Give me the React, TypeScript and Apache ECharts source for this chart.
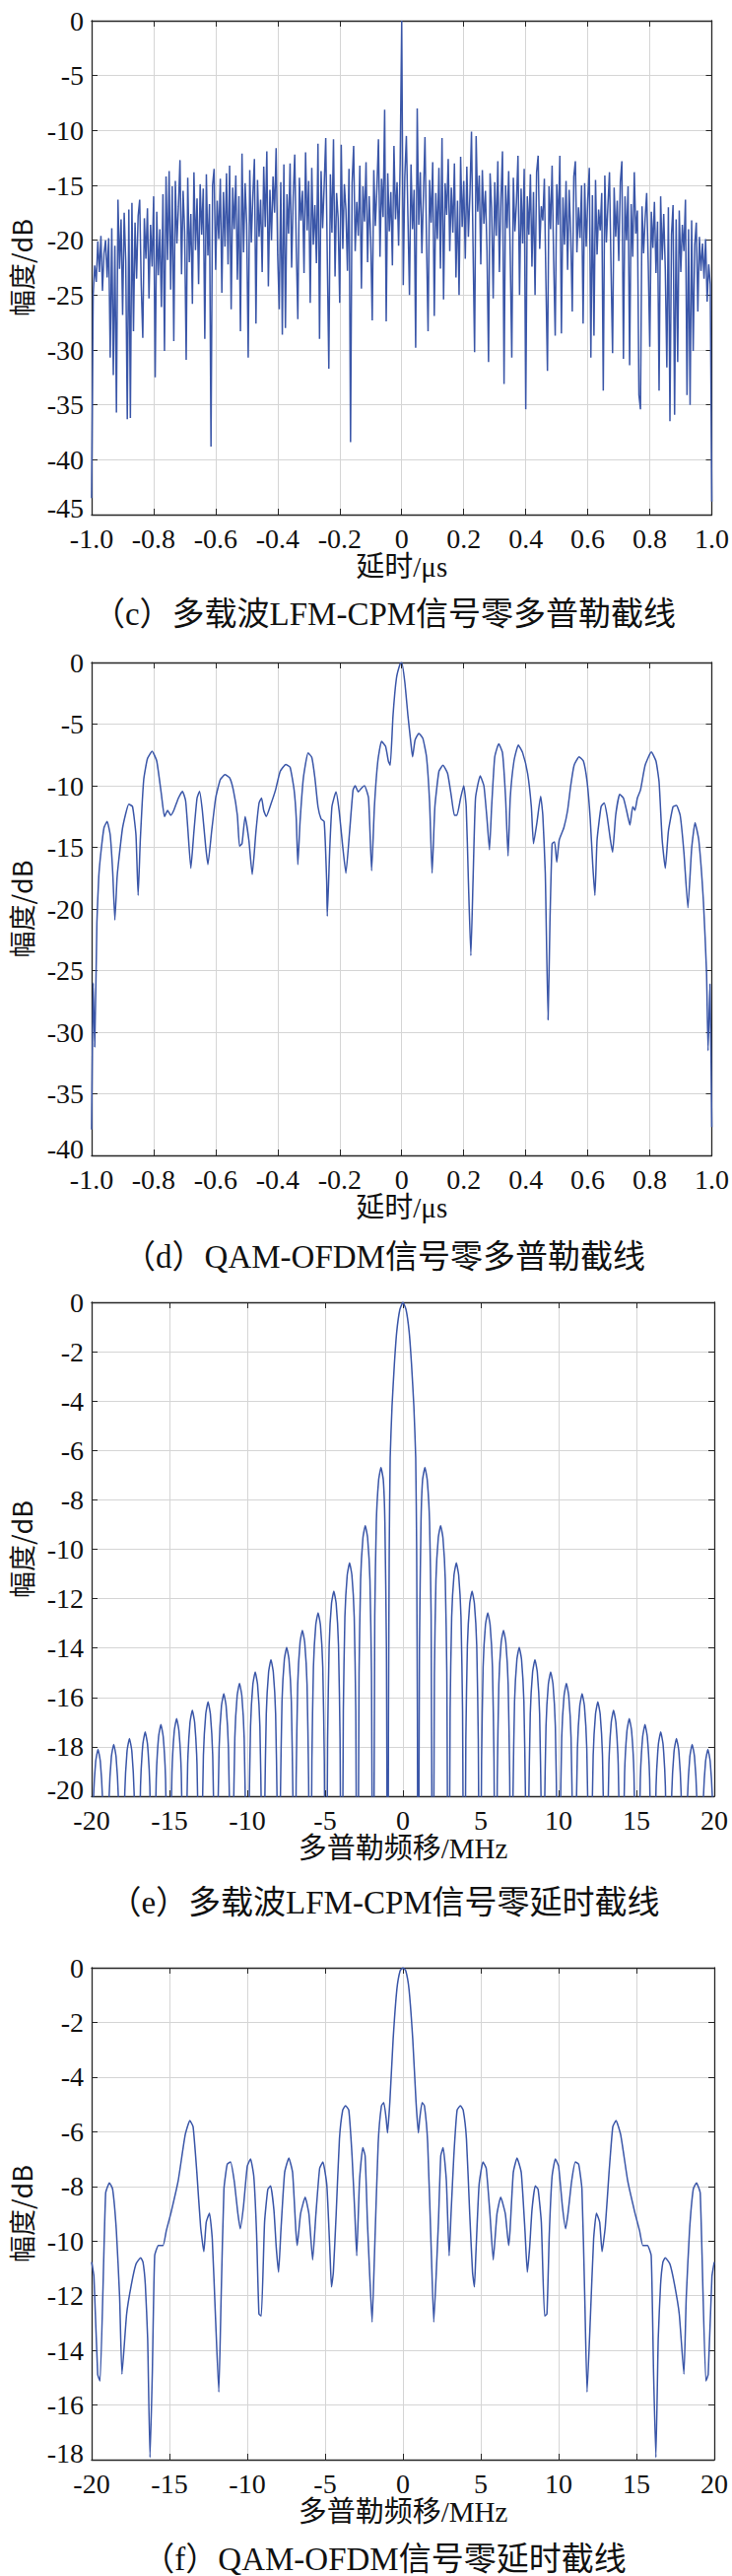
import React, { useEffect, useRef } from "react";
import * as echarts from "echarts";

// ---------- (c) multicarrier LFM-CPM, zero-Doppler cut: uniformly sampled delay ----------
const C_DELAY_START = -1;
const C_DELAY_STEP = 0.005;
const C_AMP = [
  -43.5, -25.0, -22.3, -23.8, -20.1, -22.9, -19.6, -24.6, -21.2, -20.0,
  -23.4, -19.8, -30.7, -18.9, -32.3, -20.5, -35.7, -16.3, -22.6, -18.1,
  -26.8, -17.5, -21.9, -36.3, -17.2, -36.2, -16.6, -28.3, -18.4, -23.5,
  -17.8, -16.3, -24.1, -28.9, -18.0, -21.7, -17.1, -25.3, -18.6, -22.4,
  -16.0, -32.5, -17.4, -23.2, -19.0, -26.1, -15.8, -30.1, -14.2, -21.8,
  -13.7, -24.5, -15.1, -29.2, -14.6, -20.3, -16.9, -12.7, -23.1, -15.5,
  -19.2, -30.9, -14.3, -22.0, -17.6, -25.8, -13.8, -20.9, -16.2, -24.0,
  -14.9, -19.5, -15.3, -29.0, -14.0, -21.4, -16.7, -38.8, -15.0, -13.5,
  -22.7, -16.4, -19.9, -14.4, -24.8, -15.6, -20.6, -13.9, -22.2, -13.2,
  -26.3, -15.2, -19.0, -14.1, -23.6, -16.0, -28.3, -12.1, -21.1, -14.8,
  -18.5, -30.7, -13.6, -20.2, -15.9, -12.6, -27.6, -14.5, -19.7, -16.3,
  -22.9, -13.3, -18.8, -11.9, -24.2, -15.4, -20.0, -14.2, -17.5, -11.6,
  -21.3, -26.3, -14.7, -28.6, -13.1, -28.0, -15.8, -19.4, -13.0, -22.5,
  -16.1, -12.2, -20.7, -27.2, -14.3, -18.2, -15.5, -23.0, -12.0, -19.1,
  -14.6, -25.7, -13.4, -20.4, -16.8, -22.1, -11.2, -29.0, -13.7, -18.9,
  -15.0, -10.7, -21.6, -31.7, -14.0, -19.3, -10.8, -23.3, -15.7, -18.0,
  -25.7, -11.3, -20.8, -14.9, -17.2, -22.8, -13.5, -38.4, -14.8, -11.4,
  -21.0, -16.5, -19.6, -13.2, -24.4, -15.1, -18.3, -12.9, -22.0, -16.0,
  -19.8, -27.3, -13.6, -18.7, -15.3, -10.8, -21.5, -14.4, -17.9, -8.1,
  -27.4, -13.9, -19.2, -15.6, -22.3, -11.4, -18.1, -14.7, -20.5, -13.0,
  0,
  -24.1, -14.2, -10.5, -17.8, -25.0, -13.1, -19.0, -15.4, -29.8, -8.0,
  -18.6, -13.8, -21.2, -15.9, -10.6, -20.1, -28.3, -14.5, -18.4, -12.9,
  -26.9, -15.7, -19.9, -13.4, -22.6, -10.7, -25.4, -14.8, -17.7, -12.6,
  -21.0, -15.2, -19.3, -13.0, -23.4, -16.4, -25.0, -12.4, -18.8, -14.6,
  -21.7, -13.3, -19.7, -15.8, -10.1, -20.6, -30.2, -10.5, -17.4, -14.1,
  -22.2, -13.6, -18.5, -15.5, -20.9, -31.1, -13.9, -17.1, -25.3, -14.7,
  -19.6, -12.8, -22.9, -16.2, -11.9, -33.1, -15.0, -18.9, -13.7, -21.4,
  -30.7, -14.3, -19.2, -16.6, -12.3, -25.0, -15.3, -20.3, -13.5, -35.4,
  -16.0, -19.5, -14.0, -22.4, -15.6, -25.0, -13.8, -12.3, -20.8, -16.9,
  -18.2, -14.4, -23.7, -31.9, -15.1, -19.0, -13.2, -21.8, -28.7, -14.9,
  -18.6, -12.3, -28.5, -16.1, -20.4, -14.6, -22.7, -15.4, -19.3, -26.5,
  -14.2, -12.8, -21.1, -17.0, -19.8, -15.0, -27.6, -14.8, -20.6, -16.3,
  -13.4, -30.7, -15.9, -28.7, -14.5, -21.3, -17.2, -19.1, -15.7, -33.7,
  -14.1, -20.2, -16.8, -13.8, -22.5, -30.3, -15.2, -19.7, -16.4, -21.9,
  -14.7, -12.8, -30.8, -16.0, -20.0, -15.1, -31.4, -16.7, -21.5, -13.8,
  -19.4, -17.3, -34.1, -35.4, -16.9, -21.2, -18.0, -15.7, -22.1, -29.7,
  -17.4, -20.7, -16.5, -23.0, -18.3, -33.7, -16.0, -21.8, -17.6, -22.6,
  -31.6, -17.0, -36.5, -19.5, -16.8, -35.9, -18.1, -31.1, -17.3, -22.9,
  -18.6, -21.0, -16.3, -34.1, -19.0, -35.0, -18.2, -30.1, -20.4, -18.4,
  -26.5, -19.7, -22.8, -20.3, -23.5, -19.9, -25.6, -22.2, -24.0, -43.8,
];

// ---------- (d) QAM-OFDM, zero-Doppler cut: [delay μs, dB] ----------
const D_CURVE = [
  [-1.0, -37.9], [-0.995, -26.0], [-0.99, -31.2], [-0.983, -21.1], [-0.977, -17.4], [-0.97, -15.4],
  [-0.96, -13.4], [-0.95, -12.9], [-0.94, -14.0], [-0.932, -17.0], [-0.925, -20.9], [-0.918, -17.5],
  [-0.914, -16.4], [-0.9, -13.4], [-0.88, -11.5], [-0.868, -11.7], [-0.857, -14.0], [-0.85, -18.9],
  [-0.843, -14.4], [-0.832, -9.5], [-0.82, -7.8], [-0.805, -7.2], [-0.79, -8.0], [-0.775, -10.7],
  [-0.765, -12.5], [-0.755, -12.0], [-0.745, -12.4], [-0.735, -12.0], [-0.72, -11.0], [-0.707, -10.45],
  [-0.697, -11.2], [-0.69, -13.4], [-0.68, -16.7], [-0.67, -13.7], [-0.66, -11.0], [-0.652, -10.45],
  [-0.643, -12.0], [-0.632, -15.0], [-0.625, -16.4], [-0.613, -13.7], [-0.6, -11.0], [-0.585, -9.5],
  [-0.57, -9.1], [-0.555, -9.35], [-0.543, -10.35], [-0.53, -12.4], [-0.523, -14.9], [-0.515, -14.7],
  [-0.505, -12.5], [-0.493, -14.4], [-0.482, -17.2], [-0.47, -13.7], [-0.46, -11.4], [-0.452, -11.0],
  [-0.445, -12.0], [-0.437, -12.5], [-0.422, -11.5], [-0.407, -10.35], [-0.392, -8.84], [-0.374, -8.27],
  [-0.36, -8.5], [-0.347, -10.35], [-0.34, -12.7], [-0.335, -16.4], [-0.328, -13.0], [-0.317, -9.35],
  [-0.302, -7.33], [-0.29, -7.7], [-0.28, -9.35], [-0.27, -11.7], [-0.26, -12.7], [-0.25, -12.9],
  [-0.242, -17.7], [-0.24, -20.6], [-0.232, -15.1], [-0.225, -11.7], [-0.212, -10.5], [-0.202, -12.0],
  [-0.19, -15.0], [-0.18, -17.1], [-0.168, -13.7], [-0.157, -10.35], [-0.15, -10.0], [-0.14, -10.5],
  [-0.13, -10.2], [-0.12, -10.0], [-0.107, -11.0], [-0.097, -16.9], [-0.088, -11.7], [-0.077, -8.0],
  [-0.065, -6.4], [-0.052, -6.8], [-0.043, -8.0], [-0.037, -8.34], [-0.028, -4.3], [-0.017, -1.28],
  [-0.005, -0.1], [0.0, 0.0], [0.01, -1.6], [0.02, -4.3], [0.03, -6.65], [0.035, -7.66],
  [0.043, -6.3], [0.055, -5.75], [0.068, -6.15], [0.08, -7.66], [0.09, -11.4], [0.098, -17.1],
  [0.107, -11.7], [0.12, -8.84], [0.133, -8.34], [0.148, -9.0], [0.16, -10.85], [0.17, -12.4],
  [0.178, -12.4], [0.19, -11.0], [0.2, -10.0], [0.208, -11.7], [0.215, -17.7], [0.223, -23.8],
  [0.23, -17.7], [0.238, -11.0], [0.253, -9.2], [0.265, -10.0], [0.275, -12.7], [0.283, -15.2],
  [0.29, -11.7], [0.3, -7.66], [0.313, -6.6], [0.325, -7.33], [0.335, -11.0], [0.343, -15.7],
  [0.35, -11.0], [0.362, -8.0], [0.376, -6.7], [0.39, -7.33], [0.406, -9.0], [0.418, -11.7],
  [0.425, -14.7], [0.436, -13.0], [0.448, -10.85], [0.455, -12.4], [0.463, -17.1], [0.472, -29.0],
  [0.478, -21.1], [0.485, -14.7], [0.493, -14.55], [0.5, -16.2], [0.508, -14.4], [0.523, -13.4],
  [0.535, -12.0], [0.545, -10.0], [0.556, -8.34], [0.572, -7.66], [0.586, -8.0], [0.598, -9.7],
  [0.608, -12.7], [0.616, -16.4], [0.623, -18.9], [0.63, -14.4], [0.643, -11.7], [0.653, -11.4],
  [0.662, -12.4], [0.673, -14.4], [0.68, -15.4], [0.69, -12.4], [0.703, -10.7], [0.715, -11.0],
  [0.725, -12.0], [0.736, -13.2], [0.745, -11.7], [0.752, -12.0], [0.76, -11.0], [0.77, -10.35],
  [0.785, -8.34], [0.805, -7.26], [0.82, -8.0], [0.83, -9.7], [0.84, -14.4], [0.85, -16.7],
  [0.86, -13.7], [0.875, -11.7], [0.886, -11.6], [0.898, -12.4], [0.91, -15.4], [0.923, -19.9],
  [0.935, -15.1], [0.946, -13.0], [0.958, -14.4], [0.973, -19.4], [0.983, -25.1], [0.988, -31.5],
  [0.994, -26.1], [1.0, -37.7],
];

// ---------- (e) multicarrier LFM-CPM, zero-delay cut: [Doppler MHz, dB] ----------
const E_CURVE = [
  [-20.1, -30],
  [-19.99, -24.1], [-19.89, -20.3], [-19.74, -18.6], [-19.59, -18.1], [-19.44, -18.6], [-19.29, -20.3], [-19.19, -24.1],
  [-19.09, -30],
  [-18.98, -23.9], [-18.88, -20.1], [-18.73, -18.4], [-18.58, -17.9], [-18.43, -18.4], [-18.28, -20.1], [-18.18, -23.9],
  [-18.08, -30],
  [-17.97, -23.66], [-17.87, -19.86], [-17.72, -18.16], [-17.57, -17.66], [-17.42, -18.16], [-17.27, -19.86], [-17.17, -23.66],
  [-17.07, -30],
  [-16.96, -23.4], [-16.86, -19.6], [-16.71, -17.9], [-16.56, -17.4], [-16.41, -17.9], [-16.26, -19.6], [-16.16, -23.4],
  [-16.06, -30],
  [-15.95, -23.1], [-15.85, -19.3], [-15.7, -17.6], [-15.55, -17.1], [-15.4, -17.6], [-15.25, -19.3], [-15.15, -23.1],
  [-15.05, -30],
  [-14.94, -22.86], [-14.84, -19.06], [-14.69, -17.36], [-14.54, -16.86], [-14.39, -17.36], [-14.24, -19.06], [-14.14, -22.86],
  [-14.04, -30],
  [-13.93, -22.52], [-13.83, -18.72], [-13.68, -17.02], [-13.53, -16.52], [-13.38, -17.02], [-13.23, -18.72], [-13.13, -22.52],
  [-13.03, -30],
  [-12.92, -22.18], [-12.82, -18.38], [-12.67, -16.68], [-12.52, -16.18], [-12.37, -16.68], [-12.22, -18.38], [-12.12, -22.18],
  [-12.02, -30],
  [-11.91, -21.85], [-11.81, -18.05], [-11.66, -16.35], [-11.51, -15.85], [-11.36, -16.35], [-11.21, -18.05], [-11.11, -21.85],
  [-11.01, -30],
  [-10.9, -21.43], [-10.8, -17.63], [-10.65, -15.93], [-10.5, -15.43], [-10.35, -15.93], [-10.2, -17.63], [-10.1, -21.43],
  [-10.0, -30],
  [-9.89, -20.97], [-9.79, -17.17], [-9.64, -15.47], [-9.49, -14.97], [-9.34, -15.47], [-9.19, -17.17], [-9.09, -20.97],
  [-8.99, -30],
  [-8.88, -20.47], [-8.78, -16.67], [-8.63, -14.97], [-8.48, -14.47], [-8.33, -14.97], [-8.18, -16.67], [-8.08, -20.47],
  [-7.98, -30],
  [-7.87, -19.97], [-7.77, -16.17], [-7.62, -14.47], [-7.47, -13.97], [-7.32, -14.47], [-7.17, -16.17], [-7.07, -19.97],
  [-6.97, -30],
  [-6.86, -19.28], [-6.76, -15.48], [-6.61, -13.78], [-6.46, -13.28], [-6.31, -13.78], [-6.16, -15.48], [-6.06, -19.28],
  [-5.96, -30],
  [-5.85, -18.57], [-5.75, -14.77], [-5.6, -13.07], [-5.45, -12.57], [-5.3, -13.07], [-5.15, -14.77], [-5.05, -18.57],
  [-4.95, -30],
  [-4.84, -17.7], [-4.74, -13.9], [-4.59, -12.2], [-4.44, -11.7], [-4.29, -12.2], [-4.14, -13.9], [-4.04, -17.7],
  [-3.94, -30],
  [-3.83, -16.55], [-3.73, -12.75], [-3.58, -11.05], [-3.43, -10.55], [-3.28, -11.05], [-3.13, -12.75], [-3.03, -16.55],
  [-2.93, -30],
  [-2.82, -15.04], [-2.72, -11.24], [-2.57, -9.54], [-2.42, -9.04], [-2.27, -9.54], [-2.12, -11.24], [-2.02, -15.04],
  [-1.92, -30],
  [-1.81, -12.69], [-1.71, -8.89], [-1.56, -7.19], [-1.41, -6.69], [-1.26, -7.2], [-1.16, -8.9], [-1.06, -14],
  [-0.97, -30],
  [-0.93, -17], [-0.88, -10], [-0.82, -6.3], [-0.7, -4.2], [-0.55, -2.5], [-0.4, -1.2], [-0.2, -0.3],
  [0, 0],
  [0.2, -0.3], [0.4, -1.2], [0.55, -2.5], [0.7, -4.2], [0.82, -6.3], [0.88, -10], [0.93, -17],
  [0.97, -30],
  [1.06, -14], [1.16, -8.9], [1.26, -7.2], [1.41, -6.69], [1.56, -7.19], [1.71, -8.89], [1.81, -12.69],
  [1.92, -30],
  [2.02, -15.04], [2.12, -11.24], [2.27, -9.54], [2.42, -9.04], [2.57, -9.54], [2.72, -11.24], [2.82, -15.04],
  [2.93, -30],
  [3.03, -16.55], [3.13, -12.75], [3.28, -11.05], [3.43, -10.55], [3.58, -11.05], [3.73, -12.75], [3.83, -16.55],
  [3.94, -30],
  [4.04, -17.7], [4.14, -13.9], [4.29, -12.2], [4.44, -11.7], [4.59, -12.2], [4.74, -13.9], [4.84, -17.7],
  [4.95, -30],
  [5.05, -18.57], [5.15, -14.77], [5.3, -13.07], [5.45, -12.57], [5.6, -13.07], [5.75, -14.77], [5.85, -18.57],
  [5.96, -30],
  [6.06, -19.28], [6.16, -15.48], [6.31, -13.78], [6.46, -13.28], [6.61, -13.78], [6.76, -15.48], [6.86, -19.28],
  [6.97, -30],
  [7.07, -19.97], [7.17, -16.17], [7.32, -14.47], [7.47, -13.97], [7.62, -14.47], [7.77, -16.17], [7.87, -19.97],
  [7.98, -30],
  [8.08, -20.47], [8.18, -16.67], [8.33, -14.97], [8.48, -14.47], [8.63, -14.97], [8.78, -16.67], [8.88, -20.47],
  [8.99, -30],
  [9.09, -20.97], [9.19, -17.17], [9.34, -15.47], [9.49, -14.97], [9.64, -15.47], [9.79, -17.17], [9.89, -20.97],
  [10.0, -30],
  [10.1, -21.43], [10.2, -17.63], [10.35, -15.93], [10.5, -15.43], [10.65, -15.93], [10.8, -17.63], [10.9, -21.43],
  [11.01, -30],
  [11.11, -21.85], [11.21, -18.05], [11.36, -16.35], [11.51, -15.85], [11.66, -16.35], [11.81, -18.05], [11.91, -21.85],
  [12.02, -30],
  [12.12, -22.18], [12.22, -18.38], [12.37, -16.68], [12.52, -16.18], [12.67, -16.68], [12.82, -18.38], [12.92, -22.18],
  [13.03, -30],
  [13.13, -22.52], [13.23, -18.72], [13.38, -17.02], [13.53, -16.52], [13.68, -17.02], [13.83, -18.72], [13.93, -22.52],
  [14.04, -30],
  [14.14, -22.86], [14.24, -19.06], [14.39, -17.36], [14.54, -16.86], [14.69, -17.36], [14.84, -19.06], [14.94, -22.86],
  [15.05, -30],
  [15.15, -23.1], [15.25, -19.3], [15.4, -17.6], [15.55, -17.1], [15.7, -17.6], [15.85, -19.3], [15.95, -23.1],
  [16.06, -30],
  [16.16, -23.4], [16.26, -19.6], [16.41, -17.9], [16.56, -17.4], [16.71, -17.9], [16.86, -19.6], [16.96, -23.4],
  [17.07, -30],
  [17.17, -23.66], [17.27, -19.86], [17.42, -18.16], [17.57, -17.66], [17.72, -18.16], [17.87, -19.86], [17.97, -23.66],
  [18.08, -30],
  [18.18, -23.9], [18.28, -20.1], [18.43, -18.4], [18.58, -17.9], [18.73, -18.4], [18.88, -20.1], [18.98, -23.9],
  [19.09, -30],
  [19.19, -24.1], [19.29, -20.3], [19.44, -18.6], [19.59, -18.1], [19.74, -18.6], [19.89, -20.3], [19.99, -24.1],
  [20.1, -30],
];

// ---------- (f) QAM-OFDM, zero-delay cut: [Doppler MHz, dB] ----------
const F_CURVE = [
  [-20.0, -10.77], [-19.85, -11.3], [-19.61, -14.89], [-19.46, -15.12], [-19.1, -8.25], [-18.86, -7.87],
  [-18.65, -8.1], [-18.41, -9.62], [-18.2, -12.06], [-18.05, -14.87], [-17.75, -12.67], [-17.45, -11.6],
  [-17.15, -10.84], [-16.85, -10.61], [-16.7, -10.77], [-16.55, -11.6], [-16.4, -13.58], [-16.25, -17.92],
  [-16.1, -14.8], [-15.95, -10.54], [-15.71, -10.16], [-15.41, -10.16], [-15.2, -9.62], [-14.89, -8.94],
  [-14.44, -7.8], [-13.99, -6.12], [-13.69, -5.59], [-13.48, -5.82], [-13.24, -7.49], [-13.0, -9.47],
  [-12.79, -10.39], [-12.64, -9.32], [-12.43, -8.98], [-12.25, -9.93], [-12.04, -12.82], [-11.83, -15.53],
  [-11.68, -12.06], [-11.5, -8.1], [-11.29, -7.19], [-11.08, -7.11], [-10.84, -7.8], [-10.6, -9.01],
  [-10.45, -9.55], [-10.24, -8.71], [-10.0, -7.26], [-9.79, -7.0], [-9.58, -7.64], [-9.4, -9.77],
  [-9.25, -12.67], [-9.1, -12.74], [-8.89, -9.32], [-8.68, -8.1], [-8.5, -7.98], [-8.29, -8.86],
  [-8.14, -10.23], [-7.99, -11.14], [-7.84, -9.62], [-7.6, -7.49], [-7.33, -6.96], [-7.09, -7.49],
  [-6.88, -9.62], [-6.79, -10.16], [-6.58, -9.01], [-6.28, -8.4], [-6.04, -9.01], [-5.8, -10.69],
  [-5.59, -9.01], [-5.35, -7.34], [-5.14, -7.11], [-4.89, -7.95], [-4.68, -10.54], [-4.59, -11.68],
  [-4.47, -11.14], [-4.29, -9.01], [-4.08, -6.27], [-3.87, -5.21], [-3.69, -5.05], [-3.48, -5.21],
  [-3.27, -6.88], [-3.09, -9.01], [-2.97, -10.54], [-2.79, -7.8], [-2.58, -6.58], [-2.43, -6.88],
  [-2.28, -9.32], [-2.13, -11.3], [-1.98, -12.97], [-1.83, -10.54], [-1.59, -6.42], [-1.38, -5.05],
  [-1.23, -4.93], [-1.08, -5.51], [-0.99, -6.04], [-0.84, -4.9], [-0.63, -2.62], [-0.39, -0.79],
  [-0.18, -0.11], [0, 0],
  [0.18, -0.11], [0.39, -0.79], [0.63, -2.62], [0.84, -4.9], [0.99, -6.04], [1.08, -5.51],
  [1.23, -4.93], [1.38, -5.05], [1.59, -6.42], [1.83, -10.54], [1.98, -12.97], [2.13, -11.3],
  [2.28, -9.32], [2.43, -6.88], [2.58, -6.58], [2.79, -7.8], [2.97, -10.54], [3.09, -9.01],
  [3.27, -6.88], [3.48, -5.21], [3.69, -5.05], [3.87, -5.21], [4.08, -6.27], [4.29, -9.01],
  [4.47, -11.14], [4.59, -11.68], [4.68, -10.54], [4.89, -7.95], [5.14, -7.11], [5.35, -7.34],
  [5.59, -9.01], [5.8, -10.69], [6.04, -9.01], [6.28, -8.4], [6.58, -9.01], [6.79, -10.16],
  [6.88, -9.62], [7.09, -7.49], [7.33, -6.96], [7.6, -7.49], [7.84, -9.62], [7.99, -11.14],
  [8.14, -10.23], [8.29, -8.86], [8.5, -7.98], [8.68, -8.1], [8.89, -9.32], [9.1, -12.74],
  [9.25, -12.67], [9.4, -9.77], [9.58, -7.64], [9.79, -7.0], [10.0, -7.26], [10.24, -8.71],
  [10.45, -9.55], [10.6, -9.01], [10.84, -7.8], [11.08, -7.11], [11.29, -7.19], [11.5, -8.1],
  [11.68, -12.06], [11.83, -15.53], [12.04, -12.82], [12.25, -9.93], [12.43, -8.98], [12.64, -9.32],
  [12.79, -10.39], [13.0, -9.47], [13.24, -7.49], [13.48, -5.82], [13.69, -5.59], [13.99, -6.12],
  [14.44, -7.8], [14.89, -8.94], [15.2, -9.62], [15.41, -10.16], [15.71, -10.16], [15.95, -10.54],
  [16.1, -14.8], [16.25, -17.92], [16.4, -13.58], [16.55, -11.6], [16.7, -10.77], [16.85, -10.61],
  [17.15, -10.84], [17.45, -11.6], [17.75, -12.67], [18.05, -14.87], [18.2, -12.06], [18.41, -9.62],
  [18.65, -8.1], [18.86, -7.87], [19.1, -8.25], [19.46, -15.12], [19.61, -14.89], [19.85, -11.3],
  [20.0, -10.77],
];

// ---------- texts and axis ranges ----------
const CAPTIONS = [
  "（c）多载波LFM-CPM信号零多普勒截线",
  "（d）QAM-OFDM信号零多普勒截线",
  "（e）多载波LFM-CPM信号零延时截线",
  "（f）QAM-OFDM信号零延时截线",
];
const X_NAMES = ["延时/μs", "延时/μs", "多普勒频移/MHz", "多普勒频移/MHz"];
const Y_NAME = "幅度/dB";
const X_RANGES = [
  [-1, 1, 0.2],
  [-1, 1, 0.2],
  [-20, 20, 5],
  [-20, 20, 5],
];
const Y_RANGES = [
  [-45, 0, 5],
  [-40, 0, 5],
  [-20, 0, 2],
  [-18, 0, 2],
];

// ---------- layout (pixels) ----------
const LAYOUT = [
  { top: 21, height: 501, cap: 623 },
  { top: 672, height: 500, cap: 1275 },
  { top: 1321, height: 501, cap: 1930 },
  { top: 1996, height: 499, cap: 2596 },
];
const GRID_LEFT = 92;
const GRID_RIGHT = 18;
const W = 743;
const H = 2613;

const SERIF = '"Liberation Serif", "Times New Roman", "Noto Sans CJK SC", serif';
const CJK = '"Noto Sans CJK SC", "Liberation Sans", sans-serif';
const BLUE = "#3a56a8";
const FRAME = "#262626";
const GRIDC = "#d5d5d5";

function delayFmt(v: number) {
  if (Math.abs(v) < 1e-9) return "0";
  return v.toFixed(1);
}

function buildOption() {
  const grid: any[] = [];
  const xAxis: any[] = [];
  const yAxis: any[] = [];
  const series: any[] = [];
  const graphic: any[] = [];

  const cData = C_AMP.map((v, i) => [C_DELAY_START + i * C_DELAY_STEP, v]);
  const datas = [cData, D_CURVE, E_CURVE, F_CURVE];

  LAYOUT.forEach((L, i) => {
    grid.push({ left: GRID_LEFT, right: GRID_RIGHT, top: L.top, height: L.height, containLabel: false });
    const [xmin, xmax, xint] = X_RANGES[i];
    const [ymin, ymax, yint] = Y_RANGES[i];
    const lineCommon = { show: true, onZero: false, lineStyle: { color: FRAME, width: 1.3 } };
    const tickCommon = { show: true, inside: true, length: 6, lineStyle: { color: FRAME, width: 1 } };

    xAxis.push({
      type: "value",
      gridIndex: i,
      position: "bottom",
      min: xmin,
      max: xmax,
      interval: xint,
      axisLine: lineCommon,
      axisTick: tickCommon,
      splitLine: { show: true, lineStyle: { color: GRIDC, width: 1 } },
      axisLabel: {
        show: true,
        margin: 10,
        fontSize: 28,
        fontFamily: SERIF,
        color: "#111",
        formatter: i < 2 ? delayFmt : (v: number) => String(v),
      },
      name: X_NAMES[i],
      nameLocation: "middle",
      nameGap: 35,
      nameTextStyle: { fontSize: 29, fontFamily: SERIF, color: "#111" },
    });
    xAxis.push({
      type: "value",
      gridIndex: i,
      position: "top",
      min: xmin,
      max: xmax,
      interval: xint,
      axisLine: lineCommon,
      axisTick: tickCommon,
      splitLine: { show: false },
      axisLabel: { show: false },
    });
    yAxis.push({
      type: "value",
      gridIndex: i,
      position: "left",
      min: ymin,
      max: ymax,
      interval: yint,
      axisLine: lineCommon,
      axisTick: tickCommon,
      splitLine: { show: true, lineStyle: { color: GRIDC, width: 1 } },
      axisLabel: {
        show: true,
        margin: 8,
        fontSize: 28,
        fontFamily: SERIF,
        color: "#111",
        formatter: (v: number) => (v === ymin ? "{m|" + v + "}" : String(v)),
        rich: {
          m: { fontSize: 28, fontFamily: SERIF, color: "#111", padding: [0, 0, 14, 0] },
        },
      },
      name: Y_NAME,
      nameLocation: "middle",
      nameGap: 58,
      nameTextStyle: { fontSize: 27, fontFamily: CJK, color: "#111" },
    });
    yAxis.push({
      type: "value",
      gridIndex: i,
      position: "right",
      min: ymin,
      max: ymax,
      interval: yint,
      axisLine: lineCommon,
      axisTick: tickCommon,
      splitLine: { show: false },
      axisLabel: { show: false },
    });
    series.push({
      type: "line",
      xAxisIndex: 2 * i,
      yAxisIndex: 2 * i,
      data: datas[i],
      showSymbol: false,
      symbol: "none",
      clip: true,
      silent: true,
      smooth: i === 0 ? false : 0.15,
      lineStyle: { color: BLUE, width: i === 0 ? 1.5 : 1.5 },
    });
    graphic.push({
      type: "text",
      x: 390,
      y: L.cap,
      silent: true,
      style: {
        text: CAPTIONS[i],
        fontSize: 33,
        fontFamily: SERIF,
        fill: "#111",
        textAlign: "center",
        textVerticalAlign: "middle",
        align: "center",
        verticalAlign: "middle",
      },
    });
  });

  return {
    animation: false,
    backgroundColor: "#ffffff",
    grid,
    xAxis,
    yAxis,
    series,
    graphic,
  };
}

export default function App() {
  const ref = useRef<HTMLDivElement>(null);
  useEffect(() => {
    document.body.style.margin = "0";
    if (!ref.current) return;
    const chart = echarts.init(ref.current, undefined, { renderer: "svg", width: W, height: H });
    chart.setOption(buildOption() as any);
    return () => {
      chart.dispose();
    };
  }, []);
  return <div ref={ref} style={{ width: W, height: H, background: "#fff" }} />;
}
